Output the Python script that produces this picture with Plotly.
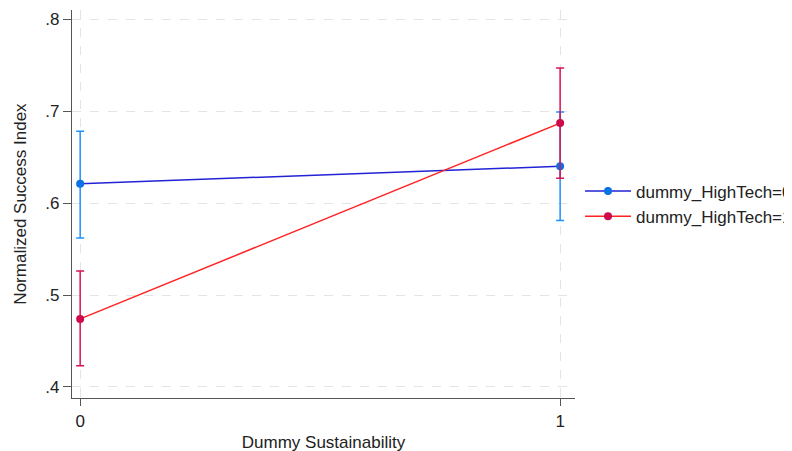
import plotly.graph_objects as go

x_vals = [0, 1]
x_labels = ["0", "1"]
y_ticks = [0.4, 0.5, 0.6, 0.7, 0.8]
y_tick_labels = [".4", ".5", ".6", ".7", ".8"]

ht0_mean = [0.621, 0.640]
ht0_upper = [0.678, 0.699]
ht0_lower = [0.562, 0.581]

ht1_mean = [0.474, 0.687]
ht1_upper = [0.526, 0.747]
ht1_lower = [0.423, 0.627]

series = [
    ("dummy_HighTech=0", ht0_mean, ht0_upper, ht0_lower, "#2222d6", "#0a72e6", "#1e90ff"),
    ("dummy_HighTech=1", ht1_mean, ht1_upper, ht1_lower, "#ff2323", "#cc0a4c", "#d81452"),
]

fig = go.Figure()
for name, m, up, lo, lc, mc, ec in series:
    fig.add_trace(go.Scatter(
        x=x_vals, y=m, name=name, mode="lines+markers",
        line=dict(color=lc, width=1.5),
        marker=dict(color=mc, size=8),
        error_y=dict(type="data", symmetric=False,
                     array=[u - v for u, v in zip(up, m)],
                     arrayminus=[v - l for v, l in zip(m, lo)],
                     color=ec, thickness=1.5, width=4),
    ))

fnt = dict(family="Liberation Sans, Arial, sans-serif", size=17, color="#222")
fig.update_layout(
    width=792, height=451,
    margin=dict(l=64, r=225, t=2, b=61, autoexpand=False),
    paper_bgcolor="white", plot_bgcolor="white",
    font=fnt,
    showlegend=True,
    legend=dict(x=1.01, xanchor="left", y=0.50, yanchor="middle",
                font=fnt, bgcolor="rgba(0,0,0,0)", itemwidth=46, tracegroupgap=0),
    xaxis=dict(range=[-0.017, 1.031], tickvals=x_vals, ticktext=x_labels,
               showline=True, linecolor="#555", linewidth=1.2,
               ticks="outside", ticklen=7, tickcolor="#555",
               showgrid=True, gridcolor="#e4e4e4", griddash="dash", gridwidth=1.2,
               zeroline=False, tickfont=fnt,
               title=dict(text="Dummy Sustainability", font=fnt, standoff=6)),
    yaxis=dict(range=[0.388, 0.81], tickvals=y_ticks, ticktext=y_tick_labels,
               showline=True, linecolor="#555", linewidth=1.2,
               ticks="outside", ticklen=8, tickcolor="#555",
               showgrid=True, gridcolor="#e4e4e4", griddash="dash", gridwidth=1.2,
               zeroline=False, tickfont=fnt,
               title=dict(text="Normalized Success Index", font=fnt, standoff=14)),
)

fig.write_html("out.html")
